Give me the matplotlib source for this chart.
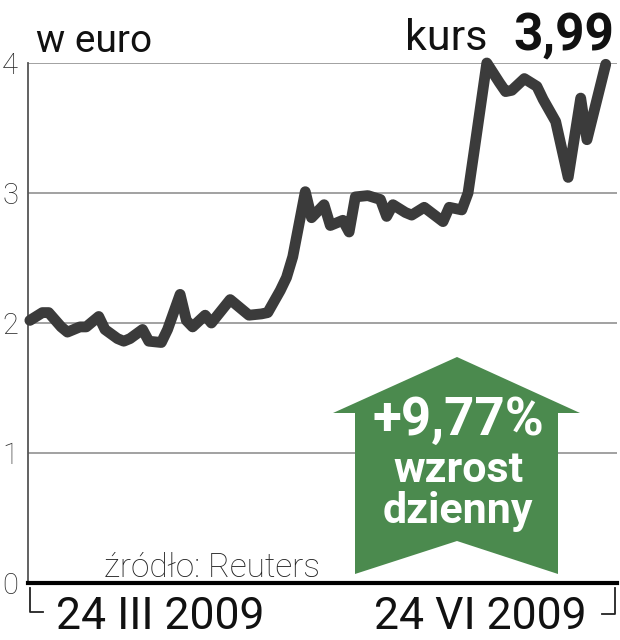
import matplotlib
matplotlib.use("Agg")
import matplotlib.pyplot as plt
from matplotlib.patches import Polygon
from matplotlib.lines import Line2D

# dni od 24 III 2009 i kurs w euro
dni = [0, 2, 3, 5, 6, 8, 9, 11, 12, 14, 15, 16, 18, 19, 21, 22, 24, 25, 26,
       28, 29, 31, 32, 34, 35, 37, 38, 40, 41, 42, 44, 45, 47, 48, 50, 51,
       52, 54, 56, 57, 58, 60, 61, 63, 66, 67, 69, 70, 71, 73, 75, 76, 77,
       79, 81, 82, 84, 86, 88, 89, 92]
kurs = [2.02, 2.08, 2.08, 1.97, 1.93, 1.97, 1.97, 2.05, 1.95, 1.88, 1.86,
        1.88, 1.95, 1.86, 1.85, 1.95, 2.22, 2.02, 1.97, 2.06, 2.00, 2.12,
        2.18, 2.10, 2.06, 2.07, 2.08, 2.25, 2.35, 2.51, 3.01, 2.81, 2.91,
        2.75, 2.79, 2.70, 2.97, 2.98, 2.95, 2.82, 2.91, 2.85, 2.83, 2.89,
        2.78, 2.89, 2.87, 3.00, 3.33, 4.00, 3.85, 3.78, 3.79, 3.88, 3.82,
        3.72, 3.55, 3.12, 3.73, 3.41, 3.99]
y_ticks = [0, 1, 2, 3, 4]
daty = ["24 III 2009", "24 VI 2009"]
ostatni = "3,99"
zmiana = "+9,77%"

W, H = 620, 640
fig = plt.figure(figsize=(W / 100, H / 100), dpi=100)
fig.patch.set_facecolor("white")

def fx(px):
    return px / W

def fy(py):
    return 1 - py / H

font = ["Roboto", "DejaVu Sans"]

ax = fig.add_axes([fx(28), fy(583), fx(617 - 28), (583 - 63) / H])
ax.plot(dni, kurs, color="#3b3b3b", lw=7.8, solid_joinstyle="round",
        solid_capstyle="round", clip_on=False, zorder=3)
ax.set_xlim(-0.3, 93.8)
ax.set_ylim(0, 4)
ax.set_yticks(y_ticks)
ax.set_yticklabels([str(t) for t in y_ticks], family=font,
                   fontweight="light", fontsize=21, color="#2a2a2a")
ax.set_xticks([])
ax.tick_params(axis="y", length=0, pad=7)
ax.grid(axis="y", color="#9a9a9a", lw=1.3, zorder=0)
for s in ["top", "right"]:
    ax.spines[s].set_visible(False)
ax.spines["left"].set_color("#555555")
ax.spines["left"].set_linewidth(1.3)
ax.spines["bottom"].set_color("black")
ax.spines["bottom"].set_linewidth(3)
ax.set_facecolor("none")

# naglowki
fig.text(fx(36), fy(52), "w euro", family=font, fontsize=28,
         color="#111111", ha="left", va="baseline")
fig.text(fx(488), fy(50), "kurs", family=font, fontsize=31,
         color="#111111", ha="right", va="baseline")
fig.text(fx(614), fy(50), ostatni, family=font, fontsize=37,
         fontweight="bold", color="#111111", ha="right", va="baseline")

# daty pod osia
fig.text(fx(56), fy(629), daty[0], family=font, fontsize=32,
         color="#111111", ha="left", va="baseline")
fig.text(fx(587), fy(629), daty[1], family=font, fontsize=32,
         color="#111111", ha="right", va="baseline")
for xs, ys in [([30, 30, 43], [588, 612, 612]), ([615, 615, 602], [588, 614, 614])]:
    fig.add_artist(Line2D([fx(v) for v in xs], [fy(v) for v in ys],
                          color="#222222", lw=1.3))

fig.text(fx(104), fy(577), "źródło: Reuters", family=font,
         fontweight="light", fontsize=24, color="#222222", ha="left",
         va="baseline")

# zielona strzalka
pts = [(457, 357), (580, 413), (558, 413), (558, 574), (457, 541),
       (355, 574), (355, 413), (333, 413)]
fig.add_artist(Polygon([(fx(a), fy(b)) for a, b in pts], closed=True,
                       facecolor="#4b8a4e", edgecolor="none", zorder=5))
fig.text(fx(458), fy(420), zmiana, family=font, fontsize=38,
         fontweight="bold", color="white", ha="center", va="center", zorder=6)
fig.text(fx(459), fy(471), "wzrost", family=font, fontsize=31,
         fontweight="bold", color="white", ha="center", va="center", zorder=6)
fig.text(fx(458), fy(512), "dzienny", family=font, fontsize=31,
         fontweight="bold", color="white", ha="center", va="center", zorder=6)

fig.savefig("out.png", dpi=100, facecolor="white")
